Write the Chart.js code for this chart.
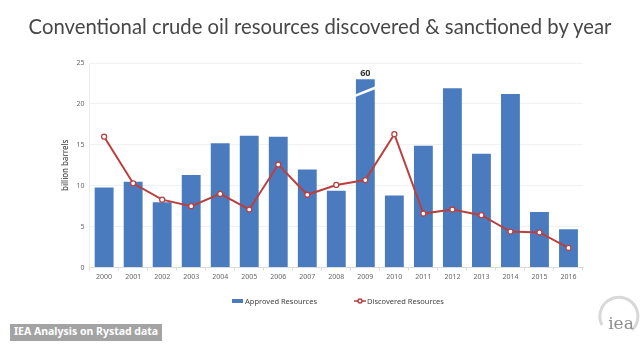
<!DOCTYPE html>
<html>
<head>
<meta charset="utf-8">
<script src="https://cdn.jsdelivr.net/npm/chart.js@4.4.1/dist/chart.umd.min.js"></script>
<style>
  html, body { margin: 0; padding: 0; background: #fff; }
  #wrap { position: relative; width: 640px; height: 344px; overflow: hidden; }
  #title {
    position: absolute; left: 0; width: 640px; top: 14px; line-height: 26px;
    text-align: center; color: #474747; white-space: nowrap;
    font: 20.3px Lato, sans-serif;
  }
  .key {
    position: absolute; top: 296px; height: 10px; display: flex; align-items: center;
    font: 7.5px "Noto Sans", sans-serif; color: #444; white-space: nowrap;
  }
  .key canvas { margin-right: 1px; }
  #note {
    position: absolute; left: 10px; top: 324px; height: 17px; line-height: 17px;
    padding: 0 4px; background: #a3a3a3; color: #fff;
    font: bold 10.5px "Noto Sans", sans-serif; white-space: nowrap;
  }
  #logo { position: absolute; left: 594px; top: 294px; }
</style>
</head>
<body>
<div id="wrap">
  <canvas id="myChart" width="640" height="344"></canvas>
  <div id="title">Conventional crude oil resources discovered &amp; sanctioned by year</div>
  <div id="keys"></div>
  <div id="note">IEA Analysis on Rystad data</div>
  <svg id="logo" width="46" height="42" viewBox="0 0 46 42">
    <path d="M 8 31 A 19 19 0 1 1 38 36" fill="none" stroke="#d8d8d8" stroke-width="3"/>
    <text x="27" y="35" text-anchor="middle" font-family="DejaVu Serif, serif" font-size="17" fill="#8e8e8e">iea</text>
  </svg>
</div>
<script>
const years = ["2000", "2001", "2002", "2003", "2004", "2005", "2006", "2007", "2008",
               "2009", "2010", "2011", "2012", "2013", "2014", "2015", "2016"];
const approved = [9.8, 10.5, 8.0, 11.3, 15.2, 16.1, 16.0, 12.0, 9.4,
                  60, 8.8, 14.9, 21.9, 13.9, 21.2, 6.8, 4.7];
const discovered = [16.0, 10.3, 8.3, 7.5, 9.0, 7.1, 12.6, 8.9, 10.1,
                    10.7, 16.3, 6.6, 7.1, 6.4, 4.4, 4.3, 2.4];
const yTicks = [0, 5, 10, 15, 20, 25];

const barBlue = '#4a7bbf';
const lineRed = '#b9403f';
const font = '"Noto Sans", sans-serif';

// bars taller than this are cut off and marked with a break
const breakAt = 23;

const axisBreak = {
  id: 'axisBreak',
  beforeDatasetDraw(chart, args) {
    if (args.meta.type !== 'bar') return;
    const a = chart.chartArea;
    const top = chart.scales.y.getPixelForValue(breakAt);
    chart.ctx.save();
    chart.ctx.beginPath();
    chart.ctx.rect(a.left, top, a.right - a.left, a.bottom - top);
    chart.ctx.clip();
  },
  afterDatasetDraw(chart, args) {
    if (args.meta.type !== 'bar') return;
    chart.ctx.restore();
    const ctx = chart.ctx;
    const y = chart.scales.y;
    args.meta.data.forEach((bar, i) => {
      if (approved[i] <= breakAt) return;
      const half = bar.width / 2 + 3;
      ctx.save();
      ctx.strokeStyle = '#ffffff';
      ctx.lineWidth = 2.5;
      ctx.beginPath();
      ctx.moveTo(bar.x - half, y.getPixelForValue(breakAt - 2.1));
      ctx.lineTo(bar.x + half, y.getPixelForValue(breakAt - 0.9));
      ctx.stroke();
      ctx.fillStyle = '#333';
      ctx.font = 'bold 9px ' + font;
      ctx.textAlign = 'center';
      ctx.textBaseline = 'bottom';
      ctx.fillText(String(approved[i]), bar.x, y.getPixelForValue(breakAt) - 1);
      ctx.restore();
    });
  }
};

const ctx = document.getElementById('myChart').getContext('2d');

const chart = new Chart(ctx, {
  type: 'bar',
  data: {
    labels: years,
    datasets: [
      {
        label: 'Approved Resources',
        data: approved,
        backgroundColor: barBlue,
        categoryPercentage: 0.65,
        barPercentage: 1,
        order: 2
      },
      {
        type: 'line',
        label: 'Discovered Resources',
        data: discovered,
        borderColor: lineRed,
        borderWidth: 2,
        pointRadius: 2.5,
        pointBackgroundColor: '#fff',
        pointBorderColor: lineRed,
        pointBorderWidth: 1.3,
        tension: 0,
        order: 1
      }
    ]
  },
  options: {
    responsive: false,
    animation: false,
    layout: { padding: { left: 57, right: 57, top: 63, bottom: 61 } },
    plugins: {
      legend: { display: false },
      tooltip: { enabled: false }
    },
    scales: {
      x: {
        grid: { display: true, drawOnChartArea: false, offset: true, tickLength: 3, color: '#dcdcdc' },
        border: { color: '#dcdcdc' },
        ticks: { color: '#666', font: { family: font, size: 7 }, padding: 2 }
      },
      y: {
        min: 0,
        max: 25,
        afterBuildTicks: axis => { axis.ticks = yTicks.map(v => ({ value: v })); },
        grid: { color: '#f1f1f1', drawTicks: false },
        border: { color: '#ececec' },
        ticks: { color: '#666', font: { family: font, size: 7 }, padding: 5 },
        title: {
          display: true,
          text: 'billion barrels',
          color: '#333',
          font: { family: font, size: 8 },
          padding: { top: 4, bottom: 1 }
        }
      }
    }
  },
  plugins: [axisBreak]
});

// legend keys built from the chart's datasets
const keyLeft = [232, 354];
chart.data.datasets.forEach((ds, i) => {
  const sw = document.createElement('canvas');
  sw.width = 12; sw.height = 6;
  const g = sw.getContext('2d');
  if (ds.type === 'line') {
    g.strokeStyle = ds.borderColor; g.lineWidth = 1.5;
    g.beginPath(); g.moveTo(0, 3); g.lineTo(12, 3); g.stroke();
    g.fillStyle = '#fff'; g.beginPath(); g.arc(6, 3, 2, 0, Math.PI * 2); g.fill(); g.stroke();
  } else {
    g.fillStyle = ds.backgroundColor; g.fillRect(0, 1, 11, 4);
  }
  const key = document.createElement('div');
  key.className = 'key';
  key.style.left = keyLeft[i] + 'px';
  key.appendChild(sw);
  key.appendChild(document.createTextNode(ds.label));
  document.getElementById('keys').appendChild(key);
});
</script>
</body>
</html>
